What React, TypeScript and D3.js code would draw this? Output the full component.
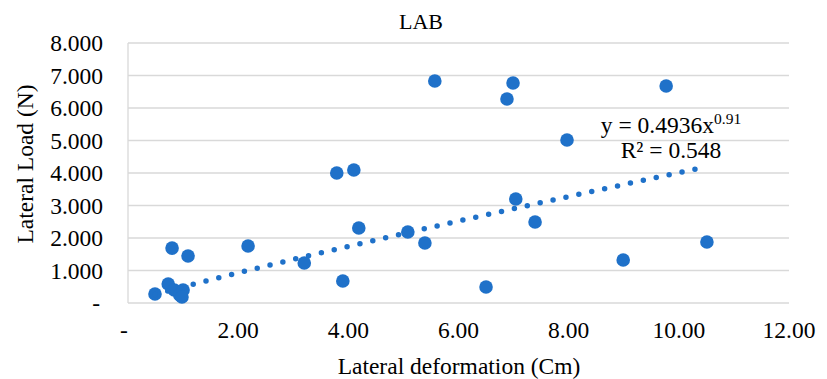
import * as d3 from "d3";
import { useEffect, useRef } from "react";

// deformation (cm) and load (N)
const deformation = [
  0.49, 0.73, 0.84, 0.94, 1.0, 0.98, 0.8, 1.09, 2.18, 3.2, 3.9, 4.19, 3.79,
  4.1, 5.08, 5.39, 5.57, 6.99, 6.88, 6.5, 7.04, 7.39, 7.97, 8.99, 9.77, 10.51,
];
const load = [
  277, 585, 400, 246, 400, 185, 1690, 1446, 1754, 1230, 677, 2308, 4000, 4092,
  2185, 1846, 6831, 6769, 6277, 492, 3200, 2492, 5015, 1323, 6677, 1877,
];
const xTicks = [0, 2, 4, 6, 8, 10, 12];
const yTicks = [0, 1000, 2000, 3000, 4000, 5000, 6000, 7000, 8000];

// power trendline y = a * x^b (label shows a in kN)
const trendA = 493.6;
const trendB = 0.91;

const W = 827;
const H = 379;
const FONT = "'Liberation Serif', 'Times New Roman', serif";
const FS = 23.5;
const BLUE = "#1f71c9";

export default function App() {
  const svgRef = useRef<SVGSVGElement>(null);

  useEffect(() => {
    if (!svgRef.current) return;
    const svg = d3.select(svgRef.current);
    svg.selectAll("*").remove();

    const x = d3.scaleLinear().domain([0, 12]).range([128, 789]);
    const y = d3.scaleLinear().domain([0, 8000]).range([303, 43]);

    // gridlines
    svg
      .append("g")
      .selectAll("line")
      .data(yTicks.filter((t) => t > 0))
      .enter()
      .append("line")
      .attr("x1", x(0))
      .attr("x2", x(12))
      .attr("y1", (d) => y(d))
      .attr("y2", (d) => y(d))
      .attr("stroke", "#d9d9d9")
      .attr("stroke-width", 1.3);

    // axis lines
    svg
      .append("line")
      .attr("x1", x(0))
      .attr("x2", x(12))
      .attr("y1", y(0))
      .attr("y2", y(0))
      .attr("stroke", "#d9d9d9")
      .attr("stroke-width", 1.3);
    svg
      .append("line")
      .attr("x1", x(0))
      .attr("x2", x(0))
      .attr("y1", y(0))
      .attr("y2", y(8000))
      .attr("stroke", "#d9d9d9")
      .attr("stroke-width", 1.3);

    // y tick labels
    svg
      .append("g")
      .selectAll("text")
      .data(yTicks)
      .enter()
      .append("text")
      .attr("x", (d) => (d === 0 ? 100 : 103))
      .attr("y", (d) => y(d) + 8)
      .attr("text-anchor", "end")
      .attr("font-family", FONT)
      .attr("font-size", FS)
      .attr("fill", "#000")
      .text((d) => (d === 0 ? "-" : d3.format(".3f")(d / 1000)));

    // x tick labels
    svg
      .append("g")
      .selectAll("text")
      .data(xTicks)
      .enter()
      .append("text")
      .attr("x", (d) => (d === 0 ? x(d) - 4 : x(d)))
      .attr("y", 338)
      .attr("text-anchor", "middle")
      .attr("font-family", FONT)
      .attr("font-size", FS)
      .attr("fill", "#000")
      .text((d) => (d === 0 ? "-" : d3.format(".2f")(d)));

    // markers
    const pts = deformation.map((d, i) => ({ x: d, y: load[i] }));
    svg
      .append("g")
      .selectAll("circle")
      .data(pts)
      .enter()
      .append("circle")
      .attr("cx", (d) => x(d.x))
      .attr("cy", (d) => y(d.y))
      .attr("r", 6.8)
      .attr("fill", BLUE);

    // trendline
    const xMin = d3.min(deformation) as number;
    const xMax = d3.max(deformation) as number;
    const trendPts = d3
      .range(0, 101)
      .map((i) => xMin + ((xMax - xMin) * i) / 100)
      .map((v) => [v, trendA * Math.pow(v, trendB)] as [number, number]);
    svg
      .append("path")
      .attr(
        "d",
        d3
          .line<[number, number]>()
          .x((d) => x(d[0]))
          .y((d) => y(d[1]))(trendPts)
      )
      .attr("fill", "none")
      .attr("stroke", BLUE)
      .attr("stroke-width", 5.5)
      .attr("stroke-linecap", "round")
      .attr("stroke-dasharray", "0 13.2");

    // equation
    const eq = svg
      .append("text")
      .attr("x", 671)
      .attr("y", 133)
      .attr("text-anchor", "middle")
      .attr("font-family", FONT)
      .attr("font-size", FS)
      .attr("fill", "#000");
    eq.append("tspan").text("y = 0.4936x");
    eq.append("tspan").attr("dy", -9).attr("font-size", 15.5).text("0.91");
    svg
      .append("text")
      .attr("x", 671)
      .attr("y", 158)
      .attr("text-anchor", "middle")
      .attr("font-family", FONT)
      .attr("font-size", FS)
      .attr("fill", "#000")
      .text("R² = 0.548");

    // titles
    svg
      .append("text")
      .attr("x", 421)
      .attr("y", 29)
      .attr("text-anchor", "middle")
      .attr("font-family", FONT)
      .attr("font-size", 22)
      .attr("fill", "#000")
      .text("LAB");
    svg
      .append("text")
      .attr("x", 459)
      .attr("y", 374)
      .attr("text-anchor", "middle")
      .attr("font-family", FONT)
      .attr("font-size", FS)
      .attr("fill", "#000")
      .text("Lateral deformation (Cm)");
    svg
      .append("text")
      .attr("transform", "translate(33,164) rotate(-90)")
      .attr("text-anchor", "middle")
      .attr("font-family", FONT)
      .attr("font-size", FS)
      .attr("fill", "#000")
      .text("Lateral Load (N)");
  }, []);

  return (
    <svg
      ref={svgRef}
      width={W}
      height={H}
      style={{ position: "fixed", left: 0, top: 0, background: "#fff" }}
    />
  );
}
